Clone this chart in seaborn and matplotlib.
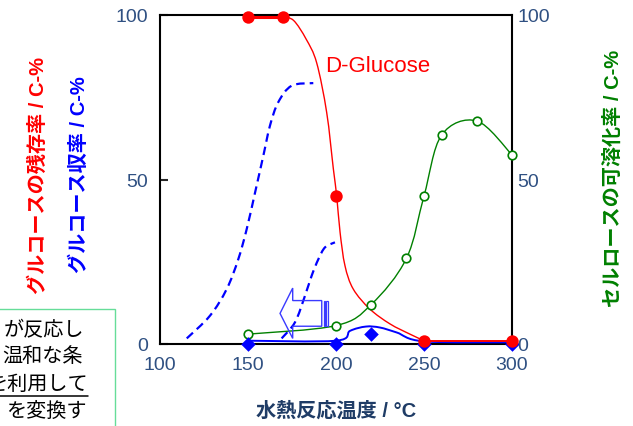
import numpy as np
import matplotlib
matplotlib.use("Agg")
import matplotlib.pyplot as plt
import seaborn as sns
from matplotlib.path import Path
from matplotlib.patches import PathPatch, Polygon, Rectangle
from matplotlib.lines import Line2D

# measured points
temp_red = [150, 170, 200, 250, 300]
glucose_left = [99.5, 99.5, 45, 1, 1]

temp_blue = [150, 200, 220, 250, 300]
glucose_yield = [0, 0, 3, 0, 0]

temp_green = [150, 200, 220, 240, 250, 260, 280, 300]
cellulose_sol = [3, 5.6, 12, 26, 45, 63.5, 67.8, 57.5]

# guide curves
red_fit_x = [170, 176, 183, 189, 194.7, 198.5, 200.4, 202.3, 205.1, 209.8, 219.3, 230.7, 242, 250]
red_fit_y = [99.5, 98.3, 92.7, 85.5, 70.4, 53.2, 45, 34, 23.8, 16.7, 10.6, 6.1, 3, 1]
blue_fit_x = [150, 200, 208, 217, 225, 234.5, 250, 300]
blue_fit_y = [1, 1, 4, 5.3, 5, 3.5, 0.8, 0.5]
dash1_x = [115.2, 128.4, 137.9, 144.5, 149.3, 154, 158.7, 162.5, 167.2, 174.8, 187.1]
dash1_y = [1.7, 8.6, 16.7, 25.8, 35, 46, 57.2, 66.4, 73.5, 78.5, 79.3]
dash2_x = [169.1, 176.7, 182.4, 186.2, 190, 193.8, 199.4]
dash2_y = [1.7, 6.6, 14.7, 20.8, 25.8, 29.4, 30.9]

ticks_x = [100, 150, 200, 250, 300]
ticks_y = [0, 50, 100]

box_lines = ["が反応し", "温和な条", "を利用して", "を変換す"]

RED, BLUE, GREEN = "#FF0000", "#0000FF", "#008000"
TICKC = "#2F5082"


def smooth_path(xs, ys):
    # catmull-rom style bezier through the points (like Excel smoothed lines)
    p = np.column_stack([xs, ys]).astype(float)
    n = len(p)
    verts, codes = [p[0]], [Path.MOVETO]
    for i in range(n - 1):
        p0 = p[i - 1] if i > 0 else p[i]
        p3 = p[i + 2] if i + 2 < n else p[i + 1]
        verts += [p[i] + (p[i + 1] - p0) / 6, p[i + 1] - (p3 - p[i]) / 6, p[i + 1]]
        codes += [Path.CURVE4] * 3
    return Path(verts, codes)


sns.set_theme(style="white")
plt.rcParams["font.family"] = ["Liberation Sans", "Noto Sans CJK JP", "DejaVu Sans"]

fig = plt.figure(figsize=(6.33, 4.27), dpi=100)
ax = fig.add_axes([160 / 633, 82 / 427, 352 / 633, 329 / 427])
ax.set_xlim(100, 300)
ax.set_ylim(0, 100)

# dashed guide curves
for xs, ys in [(dash1_x, dash1_y), (dash2_x, dash2_y)]:
    ax.add_patch(PathPatch(smooth_path(xs, ys), fill=False, ec=BLUE, lw=1.6,
                           ls=(0, (3.8, 2.3)), zorder=3))

# solid smoothed curves
ax.add_patch(PathPatch(smooth_path(temp_green, cellulose_sol), fill=False, ec=GREEN, lw=1.0, zorder=3))
ax.add_patch(PathPatch(smooth_path(blue_fit_x, blue_fit_y), fill=False, ec=BLUE, lw=1.4, zorder=3,
                       clip_on=False))
ax.add_patch(PathPatch(smooth_path(red_fit_x, red_fit_y), fill=False, ec=RED, lw=1.0, zorder=4))
sns.lineplot(x=temp_red[:2], y=glucose_left[:2], color=RED, lw=2.2, ax=ax, zorder=4)
sns.lineplot(x=temp_red[3:], y=glucose_left[3:], color=RED, lw=1.4, ax=ax, zorder=4)

# markers
sns.scatterplot(x=temp_green, y=cellulose_sol, ax=ax, marker="o", s=38, facecolor="white",
                edgecolor=GREEN, linewidth=1.2, zorder=5, clip_on=False)
sns.scatterplot(x=temp_blue, y=glucose_yield, ax=ax, marker="D", s=55, color=BLUE,
                edgecolor=BLUE, linewidth=0, zorder=6, clip_on=False)
sns.scatterplot(x=temp_red, y=glucose_left, ax=ax, marker="o", s=80, color=RED,
                edgecolor=RED, linewidth=0, zorder=7, clip_on=False)

ax.text(193.8, 84.8, "D-Glucose", color=RED, fontsize=16, ha="left", va="center")

# striped arrow pointing left
arrow = Polygon([(168.2, 9.3), (175.4, 17), (175.4, 13.2), (191.9, 13.2), (191.9, 5.4),
                 (175.4, 5.4), (175.4, 1.7)], closed=True, fill=False, ec="#3A3AFF", lw=1.0, zorder=4)
ax.add_patch(arrow)
for x0 in [192.9, 194.6]:
    ax.add_patch(Rectangle((x0, 5.4), 1.0, 7.8, fill=False, ec="#3A3AFF", lw=0.9, zorder=4))

# axes styling
ax.set_xticks(ticks_x)
ax.set_yticks(ticks_y)
ax.tick_params(axis="y", direction="in", length=6, width=1.5, pad=8.5, labelsize=14, labelcolor=TICKC)
ax.tick_params(axis="x", direction="in", length=0, pad=9, labelsize=14, labelcolor=TICKC)
for sp in ax.spines.values():
    sp.set_color("black")
    sp.set_linewidth(1.5)
ax.set_xlabel("")
ax.set_ylabel("")

ax2 = ax.twinx()
ax2.set_ylim(0, 100)
ax2.set_yticks(ticks_y)
ax2.tick_params(axis="y", direction="in", length=0, pad=4, labelsize=14, labelcolor=TICKC)
for sp in ax2.spines.values():
    sp.set_visible(False)

# axis titles
fig.text(38 / 633, 1 - 176 / 427, "グルコースの残存率 / C-%", color=RED, fontsize=14.5,
         fontweight="bold", rotation=90, ha="center", va="center")
fig.text(79 / 633, 1 - 175 / 427, "グルコース収率 / C-%", color=BLUE, fontsize=14.5,
         fontweight="bold", rotation=90, ha="center", va="center")
fig.text(613 / 633, 1 - 178 / 427, "セルロースの可溶化率 / C-%", color=GREEN, fontsize=14.5,
         fontweight="bold", rotation=90, ha="center", va="center")
fig.text(336 / 633, 1 - 411 / 427, "水熱反応温度 / °C", color="#1F3C66", fontsize=14.5,
         fontweight="bold", ha="center", va="center")

# text box at lower left (runs off the figure edge as in the source)
fig.add_artist(Rectangle((-10 / 633, -15 / 427), 125 / 633, 132 / 427, transform=fig.transFigure,
                         fill=False, ec="#66DD99", lw=1.0))
box_y = [331, 357, 384, 411]
box_right = [84, 83, 88, 87]
for s, yy, xr in zip(box_lines, box_y, box_right):
    fig.text(xr / 633, 1 - yy / 427, s, color="black", fontsize=14.5, ha="right", va="center")
fig.add_artist(Line2D([0, 88 / 633], [1 - 397 / 427] * 2, transform=fig.transFigure,
                      color="black", lw=1.1))

fig.savefig("out.png", dpi=100)
